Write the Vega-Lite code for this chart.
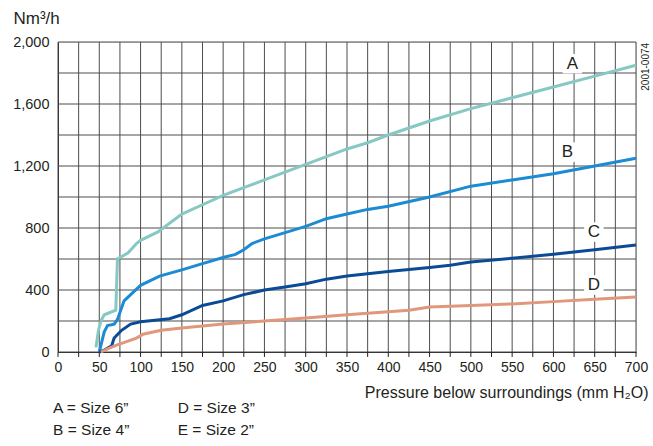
{
  "$schema": "https://vega.github.io/schema/vega-lite/v6.json",
  "width": 578,
  "height": 310,
  "autosize": "none",
  "padding": {"left": 58, "top": 42, "right": 17, "bottom": 94},
  "background": "white",
  "datasets": {
    "gridV": [
      {"pressure": 0}, {"pressure": 25}, {"pressure": 50}, {"pressure": 75}, {"pressure": 100},
      {"pressure": 125}, {"pressure": 150}, {"pressure": 175}, {"pressure": 200}, {"pressure": 225},
      {"pressure": 250}, {"pressure": 275}, {"pressure": 300}, {"pressure": 325}, {"pressure": 350},
      {"pressure": 375}, {"pressure": 400}, {"pressure": 425}, {"pressure": 450}, {"pressure": 475},
      {"pressure": 500}, {"pressure": 525}, {"pressure": 550}, {"pressure": 575}, {"pressure": 600},
      {"pressure": 625}, {"pressure": 650}, {"pressure": 675}, {"pressure": 700}
    ],
    "gridH": [
      {"flow": 0}, {"flow": 200}, {"flow": 400}, {"flow": 600}, {"flow": 800}, {"flow": 1000},
      {"flow": 1200}, {"flow": 1400}, {"flow": 1600}, {"flow": 1800}, {"flow": 2000}
    ],
    "curveData": [
      {"series": "A", "pressure": 46, "flow": 30},
      {"series": "A", "pressure": 49, "flow": 140},
      {"series": "A", "pressure": 52, "flow": 200},
      {"series": "A", "pressure": 56, "flow": 240},
      {"series": "A", "pressure": 70, "flow": 270},
      {"series": "A", "pressure": 72, "flow": 600},
      {"series": "A", "pressure": 85, "flow": 640},
      {"series": "A", "pressure": 95, "flow": 700},
      {"series": "A", "pressure": 100, "flow": 720},
      {"series": "A", "pressure": 121, "flow": 775},
      {"series": "A", "pressure": 150, "flow": 890},
      {"series": "A", "pressure": 175, "flow": 950},
      {"series": "A", "pressure": 200, "flow": 1010},
      {"series": "A", "pressure": 225, "flow": 1060},
      {"series": "A", "pressure": 250, "flow": 1110},
      {"series": "A", "pressure": 275, "flow": 1160},
      {"series": "A", "pressure": 300, "flow": 1210},
      {"series": "A", "pressure": 325, "flow": 1260},
      {"series": "A", "pressure": 350, "flow": 1310},
      {"series": "A", "pressure": 375, "flow": 1350},
      {"series": "A", "pressure": 400, "flow": 1400},
      {"series": "A", "pressure": 450, "flow": 1490},
      {"series": "A", "pressure": 500, "flow": 1570},
      {"series": "A", "pressure": 550, "flow": 1640},
      {"series": "A", "pressure": 600, "flow": 1710},
      {"series": "A", "pressure": 650, "flow": 1780},
      {"series": "A", "pressure": 700, "flow": 1850},
      {"series": "B", "pressure": 50, "flow": 0},
      {"series": "B", "pressure": 56, "flow": 130},
      {"series": "B", "pressure": 60, "flow": 170},
      {"series": "B", "pressure": 68, "flow": 180},
      {"series": "B", "pressure": 72, "flow": 210},
      {"series": "B", "pressure": 80, "flow": 330},
      {"series": "B", "pressure": 88, "flow": 370},
      {"series": "B", "pressure": 100, "flow": 430},
      {"series": "B", "pressure": 123, "flow": 490},
      {"series": "B", "pressure": 150, "flow": 530},
      {"series": "B", "pressure": 175, "flow": 570},
      {"series": "B", "pressure": 200, "flow": 610},
      {"series": "B", "pressure": 215, "flow": 630},
      {"series": "B", "pressure": 225, "flow": 660},
      {"series": "B", "pressure": 235, "flow": 700},
      {"series": "B", "pressure": 250, "flow": 730},
      {"series": "B", "pressure": 275, "flow": 770},
      {"series": "B", "pressure": 300, "flow": 810},
      {"series": "B", "pressure": 325, "flow": 860},
      {"series": "B", "pressure": 350, "flow": 890},
      {"series": "B", "pressure": 375, "flow": 920},
      {"series": "B", "pressure": 400, "flow": 940},
      {"series": "B", "pressure": 450, "flow": 1000},
      {"series": "B", "pressure": 500, "flow": 1070},
      {"series": "B", "pressure": 550, "flow": 1110},
      {"series": "B", "pressure": 600, "flow": 1150},
      {"series": "B", "pressure": 650, "flow": 1200},
      {"series": "B", "pressure": 700, "flow": 1250},
      {"series": "C", "pressure": 50, "flow": 0},
      {"series": "C", "pressure": 55, "flow": 10},
      {"series": "C", "pressure": 65, "flow": 40},
      {"series": "C", "pressure": 68, "flow": 90},
      {"series": "C", "pressure": 77, "flow": 140},
      {"series": "C", "pressure": 88, "flow": 180},
      {"series": "C", "pressure": 100, "flow": 195},
      {"series": "C", "pressure": 135, "flow": 215},
      {"series": "C", "pressure": 150, "flow": 240},
      {"series": "C", "pressure": 175, "flow": 300},
      {"series": "C", "pressure": 200, "flow": 330},
      {"series": "C", "pressure": 225, "flow": 370},
      {"series": "C", "pressure": 250, "flow": 400},
      {"series": "C", "pressure": 275, "flow": 420},
      {"series": "C", "pressure": 300, "flow": 440},
      {"series": "C", "pressure": 325, "flow": 470},
      {"series": "C", "pressure": 350, "flow": 490},
      {"series": "C", "pressure": 375, "flow": 505},
      {"series": "C", "pressure": 400, "flow": 520},
      {"series": "C", "pressure": 450, "flow": 545},
      {"series": "C", "pressure": 475, "flow": 560},
      {"series": "C", "pressure": 500, "flow": 580},
      {"series": "C", "pressure": 550, "flow": 605},
      {"series": "C", "pressure": 600, "flow": 630},
      {"series": "C", "pressure": 650, "flow": 660},
      {"series": "C", "pressure": 700, "flow": 690},
      {"series": "D", "pressure": 52, "flow": 0},
      {"series": "D", "pressure": 60, "flow": 20},
      {"series": "D", "pressure": 71, "flow": 45},
      {"series": "D", "pressure": 95, "flow": 90},
      {"series": "D", "pressure": 103, "flow": 115},
      {"series": "D", "pressure": 125, "flow": 140},
      {"series": "D", "pressure": 150, "flow": 155},
      {"series": "D", "pressure": 200, "flow": 180},
      {"series": "D", "pressure": 250, "flow": 200},
      {"series": "D", "pressure": 300, "flow": 220},
      {"series": "D", "pressure": 350, "flow": 240},
      {"series": "D", "pressure": 400, "flow": 260},
      {"series": "D", "pressure": 425, "flow": 270},
      {"series": "D", "pressure": 450, "flow": 290},
      {"series": "D", "pressure": 500, "flow": 300},
      {"series": "D", "pressure": 550, "flow": 310},
      {"series": "D", "pressure": 600, "flow": 325},
      {"series": "D", "pressure": 650, "flow": 340},
      {"series": "D", "pressure": 700, "flow": 355}
    ],
    "labelData": [
      {"label": "A", "pressure": 623, "flow": 1860},
      {"label": "B", "pressure": 617, "flow": 1290},
      {"label": "C", "pressure": 649, "flow": 774},
      {"label": "D", "pressure": 649, "flow": 432}
    ],
    "keyData": [
      {"text": "A = Size 6”", "pressure": -6, "flow": -361},
      {"text": "B = Size 4”", "pressure": -6, "flow": -503},
      {"text": "D = Size 3”", "pressure": 145, "flow": -361},
      {"text": "E = Size 2”", "pressure": 145, "flow": -503}
    ],
    "codeData": [
      {"text": "2001-0074", "pressure": 712, "flow": 1840}
    ]
  },
  "layer": [
    {
      "data": {"name": "gridV"},
      "mark": {"type": "rule", "color": "#4d4d4d", "strokeWidth": 1},
      "encoding": {
        "x": {"field": "pressure", "type": "quantitative"}
      }
    },
    {
      "data": {"name": "gridH"},
      "mark": {"type": "rule", "color": "#4d4d4d", "strokeWidth": 1},
      "encoding": {
        "y": {"field": "flow", "type": "quantitative"}
      }
    },
    {
      "data": {"name": "gridV"},
      "mark": {"type": "rule", "color": "#231f20", "strokeWidth": 1},
      "encoding": {
        "x": {"field": "pressure", "type": "quantitative"},
        "y": {"datum": 0, "type": "quantitative"},
        "y2": {"datum": -32}
      }
    },
    {
      "data": {"name": "labelData"},
      "mark": {"type": "square", "filled": true, "color": "white", "opacity": 1, "size": 380},
      "encoding": {
        "x": {"field": "pressure", "type": "quantitative"},
        "y": {"field": "flow", "type": "quantitative"}
      }
    },
    {
      "data": {"name": "curveData"},
      "mark": {"type": "line", "strokeWidth": 3},
      "encoding": {
        "x": {
          "field": "pressure", "type": "quantitative",
          "scale": {"domain": [0, 700], "nice": false},
          "axis": {
            "values": [0,50,100,150,200,250,300,350,400,450,500,550,600,650,700],
            "grid": false, "ticks": false, "labelOverlap": false,
            "domainColor": "#231f20",
            "labelFont": "Liberation Sans", "labelColor": "#231f20",
            "labelFontSize": 14, "labelPadding": 8, "labelFlush": false,
            "title": "Pressure below surroundings (mm H₂O)",
            "titleFont": "Liberation Sans", "titleColor": "#231f20", "titleFontWeight": "normal",
            "titleFontSize": 16, "titleAlign": "right",
            "titleX": 590, "titleY": 40, "titleBaseline": "middle"
          }
        },
        "y": {
          "field": "flow", "type": "quantitative",
          "scale": {"domain": [0, 2000], "nice": false},
          "axis": {
            "values": [0,200,400,600,800,1000,1200,1400,1600,1800,2000],
            "format": ",d",
            "grid": false, "ticks": false, "labelOverlap": false,
            "domainColor": "#231f20",
            "labelPadding": 9,
            "labelFont": "Liberation Sans", "labelColor": "#231f20",
            "labelFontSize": 14.5,
            "title": "Nm³/h", "titleFontSize": 17, "titleAngle": 0,
            "titleFont": "Liberation Sans", "titleColor": "#231f20", "titleFontWeight": "normal",
            "titleAlign": "left", "titleBaseline": "middle",
            "titleX": -45, "titleY": -24
          }
        },
        "color": {
          "field": "series", "type": "nominal",
          "scale": {"domain": ["A", "B", "C", "D"], "range": ["#86c8c2", "#1b8bd4", "#0b4a96", "#e0977c"]},
          "legend": null
        }
      }
    },
    {
      "data": {"name": "labelData"},
      "mark": {"type": "text", "font": "Liberation Sans", "fontSize": 17, "color": "#231f20", "baseline": "middle", "align": "center"},
      "encoding": {
        "x": {"field": "pressure", "type": "quantitative"},
        "y": {"field": "flow", "type": "quantitative"},
        "text": {"field": "label"}
      }
    },
    {
      "data": {"name": "keyData"},
      "mark": {"type": "text", "font": "Liberation Sans", "fontSize": 15.5, "color": "#231f20", "baseline": "middle", "align": "left", "clip": false},
      "encoding": {
        "x": {"field": "pressure", "type": "quantitative"},
        "y": {"field": "flow", "type": "quantitative"},
        "text": {"field": "text"}
      }
    },
    {
      "data": {"name": "codeData"},
      "mark": {"type": "text", "font": "Liberation Sans", "fontSize": 10, "color": "#231f20", "baseline": "middle", "align": "center", "angle": 270, "clip": false},
      "encoding": {
        "x": {"field": "pressure", "type": "quantitative"},
        "y": {"field": "flow", "type": "quantitative"},
        "text": {"field": "text"}
      }
    }
  ]
}
